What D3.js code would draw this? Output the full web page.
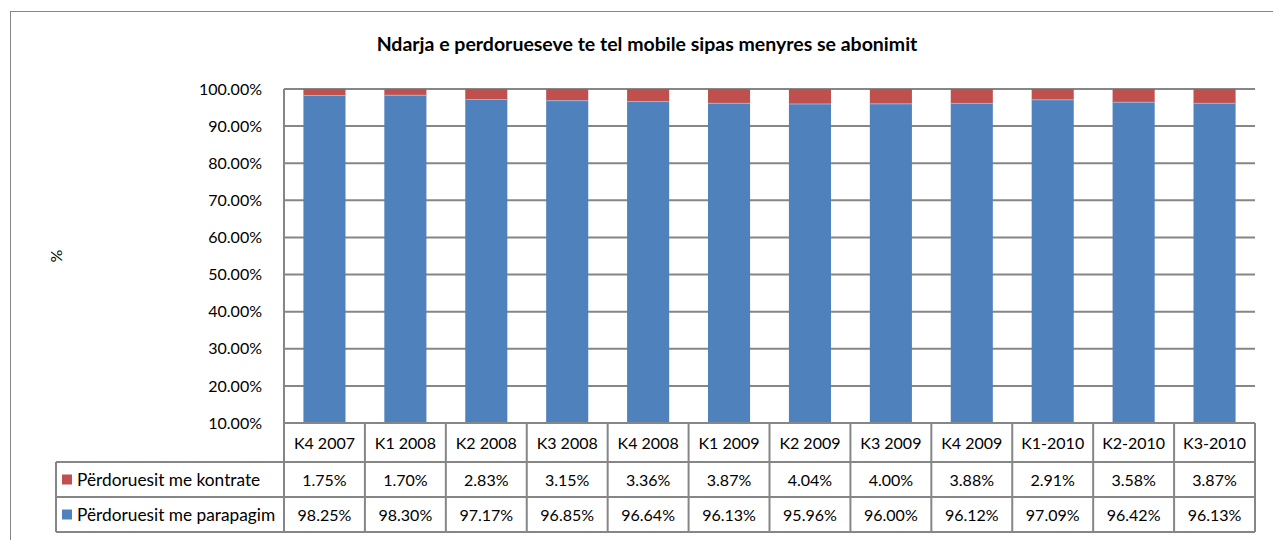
<!DOCTYPE html>
<html>
<head>
<meta charset="utf-8">
<script src="https://cdn.jsdelivr.net/npm/d3@7"></script>
<style>
  body { margin: 0; background: #fff; }
  svg { display: block; font-family: Lato, "Open Sans", sans-serif; }
</style>
</head>
<body>
<svg id="chart" width="1273" height="540"></svg>
<script>
const categories = ['K4 2007', 'K1 2008', 'K2 2008', 'K3 2008', 'K4 2008', 'K1 2009', 'K2 2009', 'K3 2009', 'K4 2009', 'K1-2010', 'K2-2010', 'K3-2010'];
const kontrate = [1.75, 1.70, 2.83, 3.15, 3.36, 3.87, 4.04, 4.00, 3.88, 2.91, 3.58, 3.87];
const parapagim = [98.25, 98.30, 97.17, 96.85, 96.64, 96.13, 95.96, 96.00, 96.12, 97.09, 96.42, 96.13];
const yTicks = [10, 20, 30, 40, 50, 60, 70, 80, 90, 100];

const seriesList = [
  { name: 'Përdoruesit me kontrate', values: kontrate, color: '#C0504D' },
  { name: 'Përdoruesit me parapagim', values: parapagim, color: '#4F81BD' }
];

const svg = d3.select('#chart');
const grid = '#868686';
const fs = '16px';

// outer chart frame (runs off the right and bottom edges)
svg.append('rect').attr('x', 10.5).attr('y', 11.5).attr('width', 1300).attr('height', 600)
  .attr('fill', 'none').attr('stroke', grid).attr('stroke-width', 1);

const plot = { left: 284, right: 1255, top: 89, bottom: 423 };

const x = d3.scaleBand().domain(categories).range([plot.left, plot.right]).paddingInner(0.48).paddingOuter(0.24);
const xCell = d3.scaleBand().domain(categories).range([plot.left, plot.right]);
const y = d3.scaleLinear().domain([10, 100]).range([plot.bottom, plot.top]);

svg.append('text').attr('x', 647).attr('y', 51).attr('text-anchor', 'middle')
  .style('font-size', '19.5px').style('font-weight', 'bold').text('Ndarja e perdorueseve te tel mobile sipas menyres se abonimit');

// gridlines
svg.append('g').selectAll('line').data(yTicks).join('line')
  .attr('x1', plot.left).attr('x2', plot.right)
  .attr('y1', d => y(d)).attr('y2', d => y(d))
  .attr('stroke', grid).attr('stroke-width', 2);

// y axis labels
const yAxis = d3.axisLeft(y).tickValues(yTicks).tickSize(0).tickPadding(22).tickFormat(d => d.toFixed(2) + '%');
const yg = svg.append('g').attr('transform', `translate(${plot.left},0)`).call(yAxis);
yg.select('.domain').remove();
yg.selectAll('text').style('font-size', fs).style('font-family', 'Lato, "Open Sans", sans-serif').attr('fill', '#000');

svg.append('text').attr('transform', 'translate(62,256) rotate(-90)').attr('text-anchor', 'middle')
  .style('font-size', fs).text('%');

// stacked bars
const rows = categories.map((c, i) => ({ cat: c, parapagim: parapagim[i], kontrate: kontrate[i] }));
const stack = d3.stack().keys(['parapagim', 'kontrate'])(rows);
const colors = { parapagim: '#4F81BD', kontrate: '#C0504D' };

svg.append('g').selectAll('g').data(stack).join('g')
  .attr('fill', d => colors[d.key])
  .selectAll('rect').data(d => d).join('rect')
  .attr('x', d => x(d.data.cat))
  .attr('width', x.bandwidth())
  .attr('y', d => y(Math.min(100, d[1])))
  .attr('height', d => y(Math.max(10, d[0])) - y(Math.min(100, d[1])));

// thin light separators between stacked segments
svg.append('g').selectAll('line').data(rows).join('line')
  .attr('x1', d => x(d.cat)).attr('x2', d => x(d.cat) + x.bandwidth())
  .attr('y1', d => y(d.parapagim)).attr('y2', d => y(d.parapagim))
  .attr('stroke', '#9bb3d6').attr('stroke-width', 1);

// left axis line
svg.append('line').attr('x1', plot.left).attr('x2', plot.left).attr('y1', plot.top).attr('y2', plot.bottom)
  .attr('stroke', grid).attr('stroke-width', 2);

// data table
const rowY = [423, 462, 497, 532];
const legendLeft = 56;
const tbl = svg.append('g').attr('stroke', grid).attr('stroke-width', 2);

// header row
tbl.append('line').attr('x1', plot.left).attr('x2', plot.right).attr('y1', rowY[0]).attr('y2', rowY[0]);
rowY.slice(1).forEach(yy => {
  tbl.append('line').attr('x1', legendLeft).attr('x2', plot.right).attr('y1', yy).attr('y2', yy);
});
tbl.append('line').attr('x1', legendLeft).attr('x2', legendLeft).attr('y1', rowY[1]).attr('y2', rowY[3]);
categories.forEach(c => {
  tbl.append('line').attr('x1', xCell(c)).attr('x2', xCell(c)).attr('y1', rowY[0]).attr('y2', rowY[3]);
});
tbl.append('line').attr('x1', plot.right).attr('x2', plot.right).attr('y1', rowY[0]).attr('y2', rowY[3]);

svg.append('g').selectAll('text').data(categories).join('text')
  .attr('x', d => xCell(d) + xCell.bandwidth() / 2).attr('y', (rowY[0] + rowY[1]) / 2 + 6)
  .attr('text-anchor', 'middle').style('font-size', fs).text(d => d);

seriesList.forEach((s, r) => {
  const top = rowY[r + 1], bot = rowY[r + 2];
  const mid = (top + bot) / 2;
  svg.append('rect').attr('x', 62).attr('y', mid - 5).attr('width', 10).attr('height', 10).attr('fill', s.color);
  svg.append('text').attr('x', 77).attr('y', mid + 6).style('font-size', '17.3px').text(s.name);
  svg.append('g').selectAll('text').data(s.values).join('text')
    .attr('x', (d, i) => xCell(categories[i]) + xCell.bandwidth() / 2).attr('y', mid + 6)
    .attr('text-anchor', 'middle').style('font-size', fs).text(d => d.toFixed(2) + '%');
});
</script>
</body>
</html>
